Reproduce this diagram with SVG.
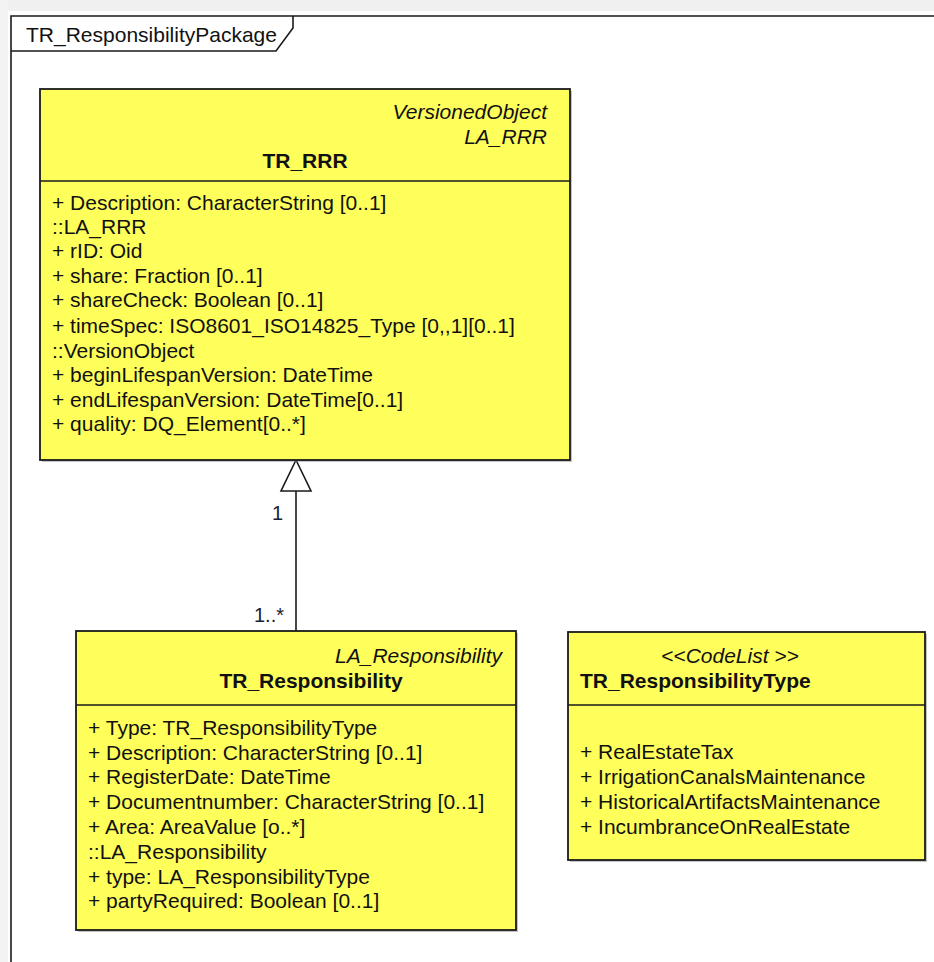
<svg xmlns="http://www.w3.org/2000/svg" width="934" height="962" viewBox="0 0 934 962">
<style>
.box{fill:#ffff5c;stroke:#1a1a1a;stroke-width:1.8}
.shadow{fill:#8a8a8a;opacity:0.5}
.div{stroke:#1a1a1a;stroke-width:1.6}
.t{font-family:"Liberation Sans",Arial,sans-serif;font-size:21px;fill:#111}
.b{font-weight:bold}
.i{font-style:italic}
.pkg{fill:none;stroke:#1a1a1a;stroke-width:1.6}
.conn{stroke:#1a1a1a;stroke-width:1.6;fill:none}
.mult{font-family:"Liberation Sans",Arial,sans-serif;font-size:20px;fill:#1a2030}
</style>
<rect x="0" y="0" width="934" height="962" fill="#ffffff"/>
<rect x="0" y="0" width="934" height="11" fill="#f0f0f0"/>
<rect x="0" y="0" width="8" height="962" fill="#f3f3f3"/>
<g id="package">
<path class="pkg" d="M11,962 V16 H934"/>
<path class="pkg" d="M11,51 H276 L293,28 V16"/>
<text class="t" x="26" y="42">TR_ResponsibilityPackage</text>
</g>
<g id="connectors">
<line class="conn" x1="296" y1="631" x2="296" y2="491"/>
<polygon points="296,460 281,491 311,491" fill="#ffffff" stroke="#1a1a1a" stroke-width="1.6"/>
<text class="mult" x="272" y="520">1</text>
<text class="mult" x="254" y="622">1..*</text>
</g>
<g id="TR_RRR">
<rect class="shadow" x="42" y="91" width="530" height="371"/>
<rect class="box" x="40" y="89" width="530" height="371"/>
<line class="div" x1="40" y1="181" x2="570" y2="181"/>
<text class="t i" x="547" y="119" text-anchor="end">VersionedObject</text>
<text class="t i" x="547" y="144" text-anchor="end">LA_RRR</text>
<text class="t b" x="305" y="168" text-anchor="middle">TR_RRR</text>
<text class="t" x="52" y="210">+ Description: CharacterString [0..1]</text>
<text class="t" x="52" y="234">::LA_RRR</text>
<text class="t" x="52" y="258">+ rID: Oid</text>
<text class="t" x="52" y="283">+ share: Fraction [0..1]</text>
<text class="t" x="52" y="307">+ shareCheck: Boolean [0..1]</text>
<text class="t" x="52" y="333">+ timeSpec: ISO8601_ISO14825_Type [0,,1][0..1]</text>
<text class="t" x="52" y="358">::VersionObject</text>
<text class="t" x="52" y="382">+ beginLifespanVersion: DateTime</text>
<text class="t" x="52" y="407">+ endLifespanVersion: DateTime[0..1]</text>
<text class="t" x="52" y="431">+ quality: DQ_Element[0..*]</text>
</g>
<g id="TR_Responsibility">
<rect class="shadow" x="78" y="633" width="440" height="299"/>
<rect class="box" x="76" y="631" width="440" height="299"/>
<line class="div" x1="76" y1="705" x2="516" y2="705"/>
<text class="t i" x="502" y="663" text-anchor="end">LA_Responsibility</text>
<text class="t b" x="311" y="688" text-anchor="middle">TR_Responsibility</text>
<text class="t" x="88" y="735">+ Type: TR_ResponsibilityType</text>
<text class="t" x="88" y="760">+ Description: CharacterString [0..1]</text>
<text class="t" x="88" y="784">+ RegisterDate: DateTime</text>
<text class="t" x="88" y="809">+ Documentnumber: CharacterString [0..1]</text>
<text class="t" x="88" y="834">+ Area: AreaValue [o..*]</text>
<text class="t" x="88" y="859">::LA_Responsibility</text>
<text class="t" x="88" y="884">+ type: LA_ResponsibilityType</text>
<text class="t" x="88" y="908">+ partyRequired: Boolean [0..1]</text>
</g>
<g id="TR_ResponsibilityType">
<rect class="shadow" x="570" y="634" width="357" height="228"/>
<rect class="box" x="568" y="632" width="357" height="228"/>
<line class="div" x1="568" y1="705" x2="925" y2="705"/>
<text class="t i" x="730" y="663" text-anchor="middle">&lt;&lt;CodeList &gt;&gt;</text>
<text class="t b" x="580" y="688">TR_ResponsibilityType</text>
<text class="t" x="580" y="759">+ RealEstateTax</text>
<text class="t" x="580" y="784">+ IrrigationCanalsMaintenance</text>
<text class="t" x="580" y="809">+ HistoricalArtifactsMaintenance</text>
<text class="t" x="580" y="834">+ IncumbranceOnRealEstate</text>
</g>
</svg>
